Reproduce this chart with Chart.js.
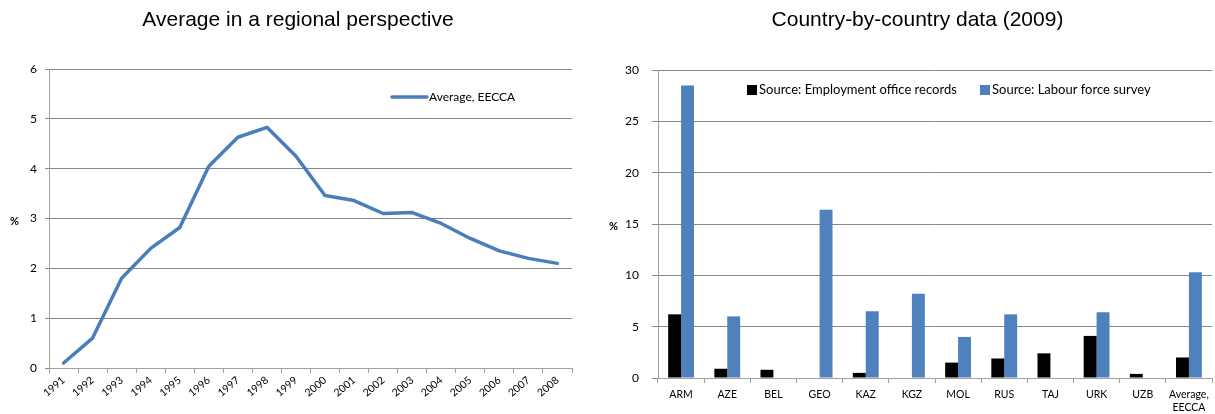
<!DOCTYPE html>
<html>
<head>
<meta charset="utf-8">
<script src="https://cdn.jsdelivr.net/npm/chart.js@4/dist/chart.umd.min.js"></script>
<style>
  html, body { margin: 0; padding: 0; background: #ffffff; }
  #wrap { position: relative; width: 1215px; height: 414px; overflow: hidden; }
  canvas { position: absolute; top: 0; }
  #trend { left: 0; }
  #countries { left: 605px; }
</style>
</head>
<body>
<div id="wrap">
  <canvas id="trend" width="605" height="414"></canvas>
  <canvas id="countries" width="610" height="414"></canvas>
</div>
<script>
// Regional average over time (%)
const years = ['1991','1992','1993','1994','1995','1996','1997','1998','1999',
               '2000','2001','2002','2003','2004','2005','2006','2007','2008'];
const averageEECCA = [0.1, 0.6, 1.8, 2.4, 2.82, 4.05, 4.63, 4.83, 4.25,
                      3.46, 3.36, 3.1, 3.12, 2.9, 2.6, 2.35, 2.2, 2.1];

// Country figures for 2009 (%)
const countries = ['ARM','AZE','BEL','GEO','KAZ','KGZ','MOL','RUS','TAJ','URK','UZB',['Average,','EECCA']];
const employmentOffice = [6.2, 0.9, 0.8, null, 0.5, null, 1.5, 1.9, 2.4, 4.1, 0.4, 2.0];
const labourForceSurvey = [28.5, 6.0, null, 16.4, 6.5, 8.2, 4.0, 6.2, null, 6.4, null, 10.3];

const trendTicks = [0, 1, 2, 3, 4, 5, 6];
const countryTicks = [0, 5, 10, 15, 20, 25, 30];

const GRID = '#878787';
const AXIS = '#a0a0a0';
const SMALL_FONT = 'Lato, "Liberation Sans", sans-serif';
const TITLE_FONT = '"Liberation Sans", Arial, sans-serif';

// Draws the "%" axis caption and an in-plot legend
const annotations = {
  id: 'annotations',
  afterDraw(chart, args, opts) {
    const ctx = chart.ctx;
    ctx.save();
    ctx.fillStyle = '#000';
    ctx.textBaseline = 'middle';
    ctx.textAlign = 'left';
    ctx.font = 'bold 11px ' + SMALL_FONT;
    ctx.fillText('%', opts.unitX, opts.unitY);
    ctx.font = opts.legendSize + 'px ' + SMALL_FONT;
    chart.data.datasets.forEach((ds, i) => {
      const item = opts.items[i];
      if (!item) return;
      if (opts.kind === 'line') {
        ctx.strokeStyle = ds.borderColor;
        ctx.lineWidth = ds.borderWidth;
        ctx.lineCap = 'round';
        ctx.beginPath();
        ctx.moveTo(item.x, item.y);
        ctx.lineTo(item.x + item.w, item.y);
        ctx.stroke();
        ctx.fillText(ds.label, item.x + item.w + 2, item.y);
      } else {
        ctx.fillStyle = ds.backgroundColor;
        ctx.fillRect(item.x, item.y - 5, 10, 10);
        ctx.fillStyle = '#000';
        ctx.fillText(ds.label, item.x + 12, item.y);
      }
    });
    ctx.restore();
  }
};

function fixedAxis(size) {
  return function (scale) {
    if (scale.isHorizontal()) scale.height = size; else scale.width = size;
  };
}

new Chart(document.getElementById('trend'), {
  type: 'line',
  data: {
    labels: years,
    datasets: [{
      label: 'Average, EECCA',
      data: averageEECCA,
      borderColor: '#4a7ebb',
      borderWidth: 3.5,
      pointRadius: 0,
      tension: 0,
      borderJoinStyle: 'round',
      borderCapStyle: 'round'
    }]
  },
  options: {
    responsive: false,
    animation: false,
    devicePixelRatio: 1,
    layout: { padding: { left: 24, right: 33, top: 0, bottom: 0 } },
    plugins: {
      legend: { display: false },
      tooltip: { enabled: false },
      title: {
        display: true,
        text: 'Average in a regional perspective',
        color: '#000',
        font: { family: TITLE_FONT, size: 21, weight: 'normal', lineHeight: 1.2 },
        padding: { top: 8, bottom: 35.8 }
      },
      annotations: {
        kind: 'line',
        legendSize: 12,
        unitX: 10, unitY: 221,
        items: [{ x: 392, y: 97, w: 35 }]
      }
    },
    scales: {
      x: {
        offset: true,
        afterFit: fixedAxis(46),
        border: { color: AXIS, width: 1 },
        grid: { offset: true, drawOnChartArea: false, drawTicks: true, tickLength: 5, color: AXIS },
        ticks: {
          color: '#000', autoSkip: false, minRotation: 40, maxRotation: 40, padding: 1,
          font: { family: SMALL_FONT, size: 10.5 }
        }
      },
      y: {
        min: 0, max: 6,
        afterFit: fixedAxis(25),
        afterBuildTicks: s => { s.ticks = trendTicks.map(v => ({ value: v })); },
        border: { color: AXIS, width: 1 },
        grid: { color: GRID, lineWidth: 1, tickLength: 4 },
        ticks: { color: '#000', padding: 8, font: { family: SMALL_FONT, size: 12 } }
      }
    }
  },
  plugins: [annotations]
});

new Chart(document.getElementById('countries'), {
  type: 'bar',
  data: {
    labels: countries,
    datasets: [{
      label: 'Source: Employment office records',
      data: employmentOffice,
      backgroundColor: '#000000',
      categoryPercentage: 0.56,
      barPercentage: 1.0
    }, {
      label: 'Source: Labour force survey',
      data: labourForceSurvey,
      backgroundColor: '#4f81bd',
      categoryPercentage: 0.56,
      barPercentage: 1.0
    }]
  },
  options: {
    responsive: false,
    animation: false,
    devicePixelRatio: 1,
    layout: { padding: { left: 18, right: 3, top: 0, bottom: 0 } },
    plugins: {
      legend: { display: false },
      tooltip: { enabled: false },
      title: {
        display: true,
        text: 'Country-by-country data (2009)',
        color: '#000',
        font: { family: TITLE_FONT, size: 21, weight: 'normal', lineHeight: 1.2 },
        padding: { top: 8, bottom: 36.8 }
      },
      annotations: {
        kind: 'bar',
        legendSize: 13,
        unitX: 4, unitY: 226,
        items: [{ x: 142, y: 90 }, { x: 375, y: 90 }]
      }
    },
    scales: {
      x: {
        afterFit: fixedAxis(36),
        border: { color: AXIS, width: 1 },
        grid: { offset: true, drawOnChartArea: false, drawTicks: true, tickLength: 5, color: AXIS },
        ticks: {
          color: '#000', autoSkip: false, maxRotation: 0, padding: 5,
          font: { family: SMALL_FONT, size: 10.5, lineHeight: 1.25 }
        }
      },
      y: {
        min: 0, max: 30,
        afterFit: fixedAxis(35),
        afterBuildTicks: s => { s.ticks = countryTicks.map(v => ({ value: v })); },
        border: { color: AXIS, width: 1 },
        grid: { color: GRID, lineWidth: 1, tickLength: 6 },
        ticks: { color: '#000', padding: 13, font: { family: SMALL_FONT, size: 12 } }
      }
    }
  },
  plugins: [annotations]
});
</script>
</body>
</html>
